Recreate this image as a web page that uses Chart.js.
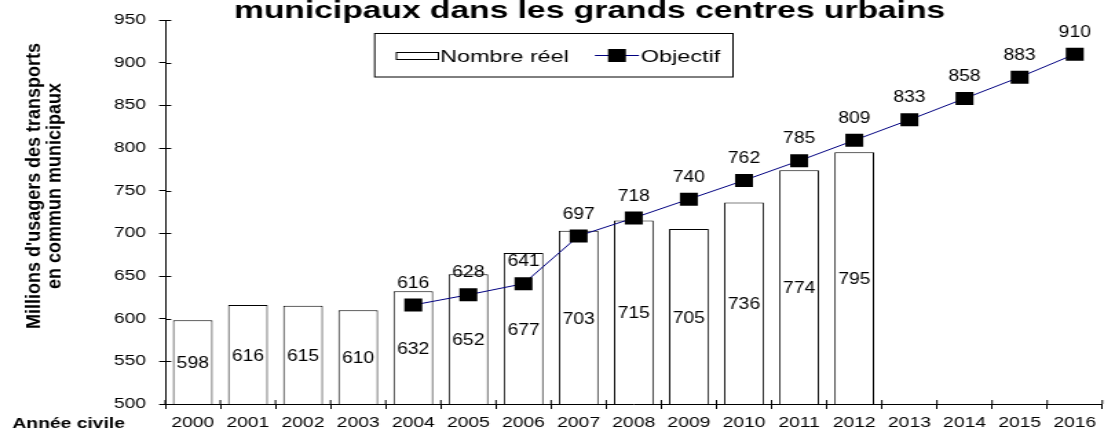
<!DOCTYPE html>
<html>
<head>
<meta charset="utf-8">
<script src="https://cdn.jsdelivr.net/npm/chart.js@4.4.0/dist/chart.umd.min.js"></script>
<style>
  html, body { margin: 0; padding: 0; background: #fff; overflow: hidden; }
</style>
</head>
<body>
<!-- drawn at 810 wide and stretched to 1115, like the source picture -->
<canvas id="c" width="810" height="435" style="width:1115px;height:435px;display:block"></canvas>
<script>
const years = ['2000', '2001', '2002', '2003', '2004', '2005', '2006', '2007', '2008',
               '2009', '2010', '2011', '2012', '2013', '2014', '2015', '2016'];
const nombreReel = [598, 616, 615, 610, 632, 652, 677, 703, 715, 705, 736, 774, 795,
                    null, null, null, null];
const objectif = [null, null, null, null, 616, 628, 641, 697, 718, 740, 762, 785, 809,
                  833, 858, 883, 910];
const yMin = 500, yMax = 950, yStep = 50;
const titleText = 'municipaux dans les grands centres urbains';
const yTitle = ["Millions d'usagers des transports", 'en commun municipaux'];
const xTitle = 'Année civile';
const legendLabels = ['Nombre réel', 'Objectif'];

const FONT = '"Liberation Sans", Arial, sans-serif';

// title, legend, axis titles, value labels, inner tick halves
const decor = {
    id: 'decor',
    afterDraw(chart) {
        const ctx = chart.ctx;
        const area = chart.chartArea;
        const x = chart.scales.x;
        const y = chart.scales.y;
        ctx.save();
        ctx.fillStyle = '#000';
        ctx.strokeStyle = '#000';
        ctx.lineWidth = 1;

        ctx.beginPath();
        for (let v = yMin; v <= yMax; v += yStep) {
            const py = Math.round(y.getPixelForValue(v)) + 0.5;
            ctx.moveTo(area.left, py);
            ctx.lineTo(area.left + 4.4, py);
        }
        const cw = (area.right - area.left) / years.length;
        for (let i = 0; i <= years.length; i++) {
            const px = area.left + i * cw;
            ctx.moveTo(px, area.bottom);
            ctx.lineTo(px, area.bottom - 4);
        }
        ctx.stroke();

        // value labels
        ctx.font = `14px ${FONT}`;
        ctx.textAlign = 'center';
        ctx.textBaseline = 'middle';
        const label = (txt, px, py) => {
            ctx.save();
            ctx.translate(px, py);
            ctx.scale(1, 1.2);
            ctx.fillText(txt, 0, 0);
            ctx.restore();
        };
        const base = y.getPixelForValue(yMin);
        nombreReel.forEach((v, i) => {
            if (v == null) return;
            label(String(v), x.getPixelForValue(i), (y.getPixelForValue(v) + base) / 2 + 1.5);
        });
        objectif.forEach((v, i) => {
            if (v == null) return;
            label(String(v), x.getPixelForValue(i), y.getPixelForValue(v) - 22);
        });

        // title (top line cut off in the source)
        ctx.font = `bold 24px ${FONT}`;
        ctx.textBaseline = 'alphabetic';
        const tw = ctx.measureText(titleText).width;
        ctx.save();
        ctx.translate(428.3, 18);
        ctx.scale(516.6 / tw, 1);
        ctx.fillText(titleText, 0, 0);
        ctx.restore();

        // legend
        ctx.strokeRect(272.2, 33.5, 260.3, 43.5);
        ctx.fillStyle = '#fff';
        ctx.fillRect(288, 52, 30.5, 7);
        ctx.strokeRect(288, 52.5, 30.5, 7);
        ctx.fillStyle = '#000';
        ctx.font = `17px ${FONT}`;
        ctx.textAlign = 'left';
        ctx.fillText(legendLabels[0], 319.7, 61.7);
        ctx.strokeStyle = '#000080';
        ctx.beginPath();
        ctx.moveTo(432.2, 55.5);
        ctx.lineTo(464.2, 55.5);
        ctx.stroke();
        ctx.fillRect(448.2 - 6.5, 55.5 - 6.5, 13, 13);
        ctx.fillText(legendLabels[1], 465.5, 61.7);

        // axis titles
        ctx.font = `bold 14px ${FONT}`;
        ctx.textAlign = 'center';
        ctx.textBaseline = 'middle';
        const stretch = 286 / ctx.measureText(yTitle[0]).width;
        [25.6, 40].forEach((cx, k) => {
            ctx.save();
            ctx.translate(cx, 186);
            ctx.rotate(-Math.PI / 2);
            ctx.scale(stretch, 1);
            ctx.fillText(yTitle[k], 0, 0);
            ctx.restore();
        });
        ctx.font = `bold 14px ${FONT}`;
        ctx.textAlign = 'left';
        ctx.fillText(xTitle, 9, 424.5);

        ctx.restore();
    }
};

new Chart(document.getElementById('c'), {
    type: 'bar',
    data: {
        labels: years,
        datasets: [
            {
                type: 'bar',
                label: legendLabels[0],
                data: nombreReel,
                backgroundColor: '#fff',
                borderColor: '#000',
                borderWidth: 1,
                barPercentage: 0.72,
                categoryPercentage: 1,
                order: 2,
            },
            {
                type: 'line',
                label: legendLabels[1],
                data: objectif,
                borderColor: '#000080',
                borderWidth: 1,
                pointStyle: 'rect',
                pointRadius: 9.2,
                pointBackgroundColor: '#000',
                pointBorderWidth: 0,
                tension: 0,
                order: 1,
            },
        ],
    },
    options: {
        responsive: false,
        devicePixelRatio: 1,
        animation: false,
        events: [],
        layout: { padding: { top: 20, right: 1.4, left: 0, bottom: 0 } },
        plugins: {
            legend: { display: false },
            title: { display: false },
            tooltip: { enabled: false },
        },
        scales: {
            x: {
                grid: { drawOnChartArea: false, offset: true, color: '#000', tickLength: 5 },
                border: { color: '#000', width: 1 },
                ticks: { color: '#000', font: { family: FONT, size: 14 }, padding: 6, maxRotation: 0, autoSkip: false },
                afterFit(s) { s.height = 31; },
            },
            y: {
                min: yMin,
                max: yMax,
                grid: { drawOnChartArea: false, color: '#000', tickLength: 4.4 },
                border: { color: '#000', width: 1 },
                ticks: { stepSize: yStep, color: '#000', font: { family: FONT, size: 14 }, padding: 9.6 },
                afterFit(s) { s.width = 120; },
            },
        },
    },
    plugins: [decor],
});
</script>
</body>
</html>
